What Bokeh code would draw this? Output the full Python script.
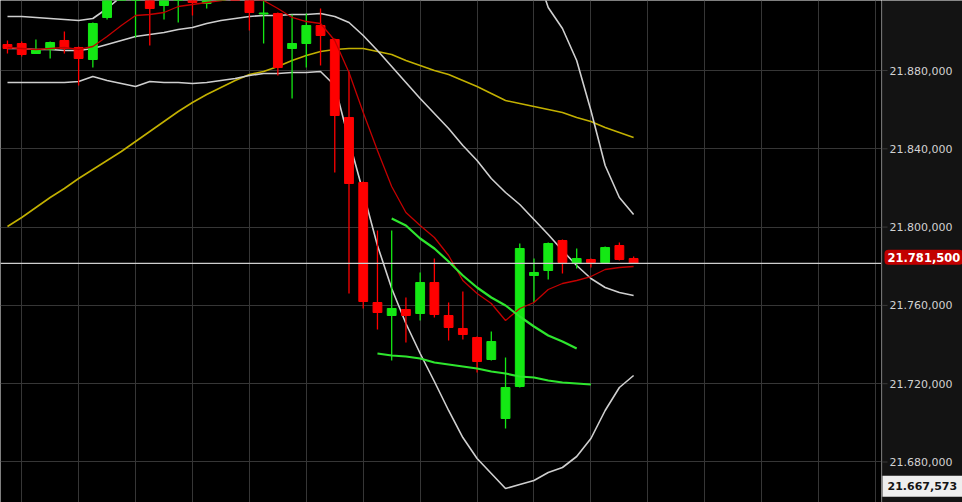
from bokeh.plotting import figure
from bokeh.layouts import row
from bokeh.models import Range1d, FixedTicker, Span, Label, ColumnDataSource, Grid
from bokeh.core.properties import value
from bokeh.embed import file_html
from bokeh.resources import INLINE

# ---------------- data ----------------
opens = [21893280, 21893790, 21888680, 21890730, 21895330, 21891750, 21885620, 21907080,
         21922000, 21918310, 21920870, 21913210, 21917290, 21920870, 21914230, 21919000,
         21926000, 21918830, 21908860, 21909120, 21891240, 21893790, 21902990, 21895840,
         21855990, 21822780, 21761480, 21754840, 21757900, 21755860, 21771700, 21754840,
         21748200, 21743600, 21732360, 21702220, 21718570, 21775270, 21777830, 21793150,
         21781400, 21783450, 21781920, 21790600, 21783960]
highs = [21895330, 21894810, 21895840, 21894810, 21899920, 21892260, 21904520, 21921890,
         21931000, 21928500, 21923420, 21921890, 21923930, 21922910, 21920360, 21928000,
         21929000, 21920870, 21916270, 21909630, 21908610, 21909120, 21911670, 21896350,
         21879490, 21823290, 21798260, 21798260, 21764030, 21776810, 21783960, 21761480,
         21767100, 21744110, 21746670, 21733380, 21791620, 21783960, 21792130, 21793660,
         21789070, 21783960, 21790090, 21792130, 21784980]
lows = [21888680, 21887150, 21888430, 21886130, 21888680, 21872340, 21881530, 21906050,
        21918500, 21896860, 21892770, 21906050, 21904520, 21908100, 21911670, 21916500,
        21917000, 21900430, 21893790, 21877450, 21865700, 21881530, 21882550, 21827890,
        21766080, 21758420, 21747690, 21731850, 21741050, 21752290, 21753820, 21742070,
        21742580, 21725720, 21731850, 21697110, 21718060, 21761480, 21773230, 21776300,
        21778850, 21779360, 21781400, 21782940, 21781400]
closes = [21891240, 21888170, 21890730, 21894300, 21891240, 21886130, 21904010, 21919850,
          21928000, 21926000, 21911670, 21919850, 21921890, 21914740, 21918830, 21925000,
          21921000, 21909630, 21909370, 21881530, 21893790, 21902990, 21897880, 21857010,
          21822270, 21761990, 21756370, 21758420, 21754840, 21771700, 21755350, 21748710,
          21745130, 21731340, 21741560, 21718060, 21789070, 21776810, 21791620, 21781920,
          21783960, 21781920, 21789580, 21783450, 21781500]

bb_upper = [21907590, 21907590, 21907080, 21906570, 21906050, 21905540, 21906570, 21911670,
            21917800, 21922910, 21922400, 21924960, 21928020, 21930580, 21934150, 21936190,
            21937220, 21937730, 21937730, 21937730, 21938240, 21938240, 21938750, 21942840,
            21964800, 21979620, 21989840, 21995450, 21996990, 21998010, 21994940, 21994430,
            21990860, 21986260, 21975530, 21968890, 21954590, 21933640, 21912180, 21901460,
            21885110, 21859570, 21831470, 21815120, 21806440]
bb_middle = [21891240, 21891240, 21890730, 21890730, 21890220, 21890220, 21891240, 21893280,
             21895330, 21897370, 21898390, 21899410, 21900950, 21901970, 21904010, 21905540,
             21906570, 21907590, 21908100, 21908100, 21908610, 21908610, 21909120, 21907590,
             21904520, 21897880, 21890220, 21882040, 21873870, 21865700, 21858030, 21850370,
             21841690, 21834020, 21824830, 21817680, 21811550, 21803880, 21796220, 21788050,
             21780380, 21773740, 21769140, 21766590, 21765060]
bb_lower = [21873870, 21873870, 21873870, 21873870, 21873870, 21874380, 21876940, 21874890,
            21873360, 21871830, 21874380, 21873870, 21873870, 21873360, 21873870, 21874890,
            21875910, 21877450, 21878470, 21878470, 21878980, 21878980, 21879490, 21872340,
            21844240, 21817680, 21790600, 21768630, 21750750, 21735430, 21721120, 21706310,
            21692510, 21681790, 21674120, 21666460, 21668500, 21670550, 21674630, 21677190,
            21682810, 21692000, 21706310, 21718060, 21724190]
ma_fast = [21891750, 21891240, 21890730, 21891240, 21891750, 21890730, 21892260, 21897370,
           21902990, 21908100, 21908610, 21909630, 21912700, 21913720, 21914740, 21915760,
           21916780, 21916270, 21915760, 21911670, 21907080, 21905030, 21904010, 21895330,
           21878980, 21858540, 21839130, 21820740, 21807460, 21800820, 21794690, 21785490,
           21772720, 21766080, 21760970, 21752290, 21758420, 21761480, 21768120, 21771190,
           21772720, 21774760, 21778340, 21779360, 21779870]
ma_slow = [21800310, 21804900, 21810010, 21815120, 21819720, 21824830, 21829430, 21834020,
           21838620, 21843730, 21848840, 21853950, 21859060, 21863650, 21867740, 21871320,
           21874890, 21877960, 21879490, 21882040, 21885110, 21887660, 21889710, 21890730,
           21891240, 21891240, 21889710, 21888170, 21885110, 21882550, 21880000, 21877960,
           21874890, 21871830, 21868250, 21864670, 21863140, 21861610, 21860080, 21858540,
           21855990, 21853950, 21850880, 21848330, 21845770]
green_upper_idx = list(range(27, 41))
green_upper = [21804390, 21800820, 21794180, 21789070, 21782430, 21775270, 21769140,
               21764040, 21759950, 21754330, 21749220, 21744620, 21741560, 21737980]
green_lower_idx = list(range(26, 42))
green_lower = [21735430, 21734400, 21733890, 21732870, 21730830, 21729810, 21728790,
               21727760, 21726230, 21725210, 21723680, 21723170, 21721630, 21720610,
               21720100, 21719590]

price_ticks = [21680000, 21720000, 21760000, 21800000, 21840000, 21880000]
tick_labels = ["21.680,000", "21.720,000", "21.760,000", "21.800,000", "21.840,000",
               "21.880,000"]
grid_slots = [1, 5, 9, 13, 17, 21, 25, 29, 33, 37, 41, 45, 49, 53, 57, 61]
last_price = 21781500
last_price_text = "21.781,500"
cursor_price = 21667573
cursor_text = "21.667,573"

# ---------------- main price panel ----------------
idx = list(range(len(opens)))
GREEN = "#14e814"
RED = "#ff0000"
GRID = "#363636"
colors = [GREEN if c >= o else RED for o, c in zip(opens, closes)]
tops = [max(o, c) for o, c in zip(opens, closes)]
bots = [min(o, c) for o, c in zip(opens, closes)]
src = ColumnDataSource(dict(x=idx, h=highs, l=lows, top=tops, bot=bots, color=colors))

yr = Range1d(21659310, 21915760)
p = figure(width=881, height=502, output_backend="svg", toolbar_location=None,
           x_range=Range1d(-0.49, 61.42), y_range=yr,
           x_axis_location=None, y_axis_location=None,
           min_border=0, background_fill_color="#000000", border_fill_color="#000000",
           outline_line_color=None)
p.xgrid.visible = False
p.ygrid.visible = False
p.add_layout(Grid(dimension=0, ticker=FixedTicker(ticks=grid_slots), grid_line_color=GRID))
p.add_layout(Grid(dimension=1, ticker=FixedTicker(ticks=price_ticks), grid_line_color=GRID))

p.line(idx, ma_slow, line_color="#c2b000", line_width=1.6)
p.line(idx, bb_upper, line_color="#cfcfcf", line_width=1.6)
p.line(idx, bb_middle, line_color="#cfcfcf", line_width=1.6)
p.line(idx, bb_lower, line_color="#cfcfcf", line_width=1.6)

p.segment(x0="x", y0="h", x1="x", y1="l", color="color", line_width=1.3, source=src)
p.vbar(x="x", top="top", bottom="bot", width=0.62, fill_color="color",
       line_color="color", line_width=1, source=src)

p.line(idx, ma_fast, line_color="#c40000", line_width=1.3)
p.line(green_upper_idx, green_upper, line_color="#2ee62e", line_width=2.2)
p.line(green_lower_idx, green_lower, line_color="#2ee62e", line_width=2.2)

p.add_layout(Span(location=last_price, dimension="width", line_color="#cfcfcf",
                  line_width=1.2))

# ---------------- price scale panel ----------------
pa = figure(width=81, height=502, output_backend="svg", toolbar_location=None,
            x_range=Range1d(0, 81), y_range=yr,
            x_axis_location=None, y_axis_location=None,
            min_border=0, background_fill_color="#131313", border_fill_color="#131313",
            outline_line_color=None)
pa.xgrid.visible = False
pa.ygrid.visible = False
pa.segment(x0=[0] * len(price_ticks), x1=[6] * len(price_ticks),
           y0=price_ticks, y1=price_ticks, line_color="#3a3a3a", line_width=1)
pa.add_layout(Span(location=0.5, dimension="height", line_color="#2e2e2e", line_width=1))
pa.text(x=[8] * len(price_ticks), y=price_ticks, text=tick_labels,
        text_baseline="middle", text_align="left", text_color="#d2d2d2",
        text_font=value("DejaVu Sans"), text_font_size="11px")

pa.add_layout(Label(x=3, y=last_price, y_offset=6, text=last_price_text,
                    text_baseline="middle", text_align="left", text_color="#ffffff",
                    text_font="DejaVu Sans", text_font_style="bold", text_font_size="11.5px",
                    background_fill_color="#c20000", border_radius=4, padding=3))
pa.rect(x=[40.5], y=[cursor_price], width=81, height=21, height_units="screen",
        fill_color="#eeeeee", line_color=None)
pa.text(x=[6], y=[cursor_price], text=[cursor_text], text_baseline="middle",
        text_align="left", text_color="#141414", text_font=value("DejaVu Sans"),
        text_font_style="bold", text_font_size="11px")

layout = row(p, pa, spacing=0)
open("out.html", "w").write(file_html(layout, INLINE))
